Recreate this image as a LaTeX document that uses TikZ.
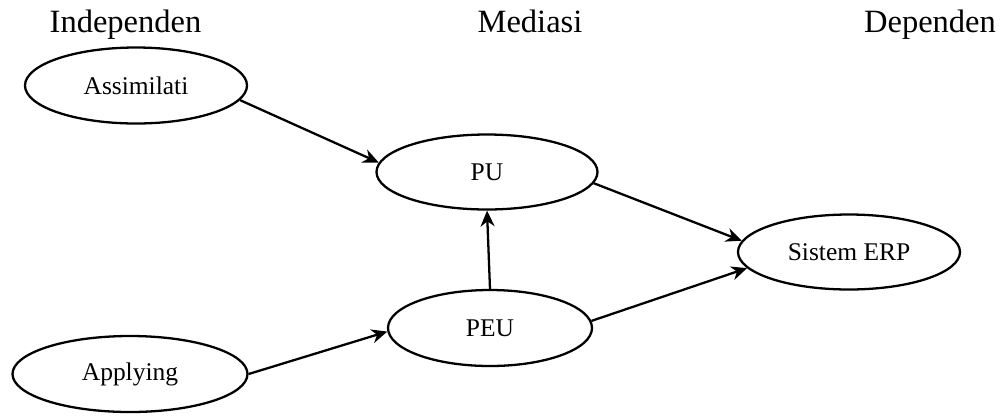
\documentclass[tikz,border=0pt]{standalone}
\usepackage{fontspec}
\setmainfont{Liberation Serif}
\usetikzlibrary{arrows.meta,positioning,shapes.geometric}

\begin{document}
\begin{tikzpicture}[
  var/.style={draw, ellipse, line width=1.3pt, inner sep=0pt,
    minimum width=4.44cm, minimum height=1.52cm, font=\fontsize{14.5}{16}\selectfont},
  head/.style={anchor=base, font=\fontsize{18.5}{20}\selectfont},
  arr/.style={-{Stealth[length=9pt, width=8pt]}, line width=1.3pt}
]
  \useasboundingbox (0,0) rectangle (20.02,-8.36);

  % column headings
  \node[head] (hind) at (2.51,-0.64) {Independen};
  \node[head] (hmed) at (10.60,-0.64) {Mediasi};
  \node[head] (hdep) at (18.60,-0.64) {Dependen};

  % variables
  \node[var] (asm) at (2.72,-1.71) {Assimilati};
  \node[var, minimum width=4.70cm] (apl) at (2.60,-7.48) {Applying};
  \node[var, minimum width=4.42cm, minimum height=1.50cm] (pu) at (9.74,-3.44) {PU};
  \node[var, minimum width=4.08cm] (peu) at (9.80,-6.56) {PEU};
  \node[var, minimum height=1.50cm] (erp) at (16.98,-5.04) {Sistem ERP};

  \draw[arr] (asm.-8) -- (pu.175);
  \draw[arr] (apl.east) -- (peu.182);
  \draw[arr] (peu.north) -- (pu.south);
  \draw[arr] (pu.-6) -- (erp.174);
  \draw[arr] (peu.4) -- (erp.189);
\end{tikzpicture}
\end{document}
